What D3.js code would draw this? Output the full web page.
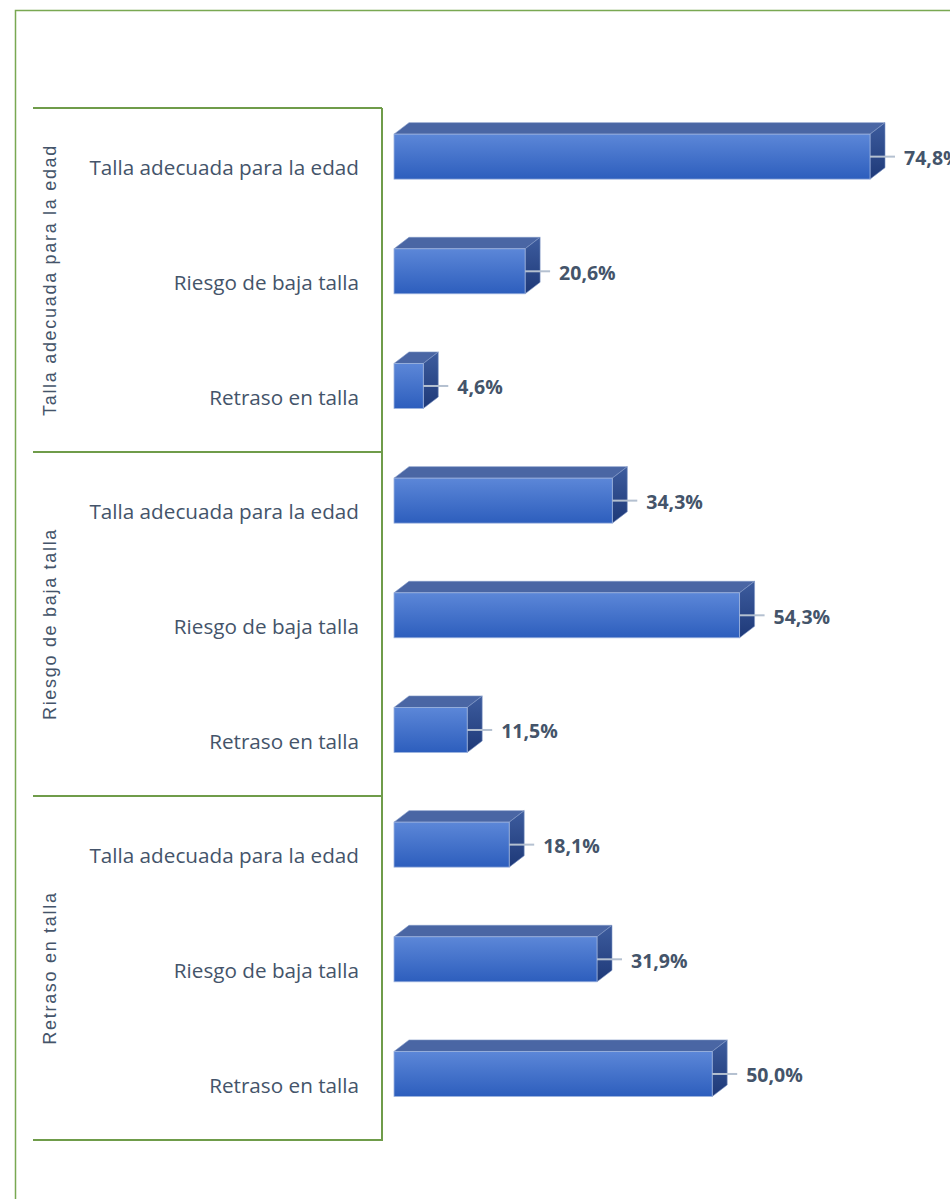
<!DOCTYPE html>
<html><head><meta charset="utf-8">
<script src="https://cdn.jsdelivr.net/npm/d3@7"></script>
<style>html,body{margin:0;padding:0;background:#fff;}svg{display:block;}</style>
</head><body>
<script>
const groups = ["Talla adecuada para la edad", "Riesgo de baja talla", "Retraso en talla"];
const categories = ["Talla adecuada para la edad", "Riesgo de baja talla", "Retraso en talla"];
const valuesTallaAdecuada = [74.8, 20.6, 4.6];
const valuesRiesgo = [34.3, 54.3, 11.5];
const valuesRetraso = [18.1, 31.9, 50.0];
const seriesValues = [valuesTallaAdecuada, valuesRiesgo, valuesRetraso];

const W = 950, H = 1199;
const rows = [];
groups.forEach((g, gi) => categories.forEach((c, ci) => rows.push({g, gi, c, ci, v: seriesValues[gi][ci], key: gi + "|" + ci})));

const svg = d3.select("body").append("svg").attr("width", W).attr("height", H);
const defs = svg.append("defs");
const gf = defs.append("linearGradient").attr("id", "front").attr("x1", 0).attr("y1", 0).attr("x2", 0).attr("y2", 1);
gf.append("stop").attr("offset", "0%").attr("stop-color", "#5c87d8");
gf.append("stop").attr("offset", "100%").attr("stop-color", "#2d5ebd");
const gs = defs.append("linearGradient").attr("id", "side").attr("x1", 0).attr("y1", 0).attr("x2", 0).attr("y2", 1);
gs.append("stop").attr("offset", "0%").attr("stop-color", "#3d5c9e");
gs.append("stop").attr("offset", "100%").attr("stop-color", "#1e3978");

const green = "#6f9c4a";
const textCol = "#44546a";

// outer border (top and left visible)
svg.append("rect").attr("x", 15.5).attr("y", 10.5).attr("width", 1000).attr("height", 1300)
  .attr("fill", "none").attr("stroke", "#79a852").attr("stroke-width", 1.5);

const x = d3.scaleLinear().domain([0, 100]).range([394, 1030.4]);
const y = d3.scaleBand().domain(rows.map(r => r.key)).range([108, 1140]).padding(0);
const yg = d3.scaleBand().domain(groups).range([108, 1140]).padding(0);

const axisX = 382;
// group separators
const sepYs = [108, ...groups.map(g => yg(g) + yg.bandwidth())];
svg.selectAll("line.sep").data(sepYs).enter().append("line")
  .attr("x1", 33).attr("x2", axisX).attr("y1", d => d).attr("y2", d => d)
  .attr("stroke", green).attr("stroke-width", 1.8);
svg.append("line").attr("x1", axisX).attr("x2", axisX).attr("y1", 108).attr("y2", 1141)
  .attr("stroke", green).attr("stroke-width", 2);

// category labels
svg.selectAll("text.cat").data(rows).enter().append("text")
  .attr("x", 359).attr("y", d => y(d.key) + y.bandwidth() / 2 + 2)
  .attr("text-anchor", "end").attr("dominant-baseline", "central")
  .attr("font-family", "'Open Sans', sans-serif").attr("font-size", 20.7)
  .attr("fill", textCol).text(d => d.c);

// group labels rotated
svg.selectAll("text.grp").data(groups).enter().append("text")
  .attr("transform", d => `translate(50,${yg(d) + yg.bandwidth() / 2}) rotate(-90)`)
  .attr("text-anchor", "middle").attr("dominant-baseline", "central")
  .attr("font-family", "'Liberation Sans', Arial, sans-serif").attr("font-size", 18)
  .attr("letter-spacing", 1.7)
  .attr("fill", textCol).text(d => d);

// 3D bars
const dx = 15, dy = 11.5, bh = 45;
const bars = svg.selectAll("g.bar").data(rows).enter().append("g");
bars.each(function(d) {
  const g = d3.select(this);
  const x0 = x(0), x1 = x(d.v);
  const yc = y(d.key) + y.bandwidth() / 2 - 8.7;
  const yt = yc - bh / 2, yb = yc + bh / 2;
  g.append("path").attr("d", `M${x0},${yt} L${x0 + dx},${yt - dy} L${x1 + dx},${yt - dy} L${x1},${yt} Z`)
    .attr("fill", "#4a66a4").attr("stroke", "#7f97c6").attr("stroke-width", 0.6);
  g.append("path").attr("d", `M${x1},${yt} L${x1 + dx},${yt - dy} L${x1 + dx},${yb - dy} L${x1},${yb} Z`)
    .attr("fill", "url(#side)").attr("stroke", "#7f97c6").attr("stroke-width", 0.6);
  g.append("rect").attr("x", x0).attr("y", yt).attr("width", x1 - x0).attr("height", bh)
    .attr("fill", "url(#front)").attr("stroke", "#9db3de").attr("stroke-width", 0.8);
  g.append("line").attr("x1", x1).attr("x2", x1 + 25).attr("y1", yc).attr("y2", yc)
    .attr("stroke", "#b4c0d0").attr("stroke-width", 2);
  g.append("text").attr("x", x1 + 34).attr("y", yc + 1).attr("dominant-baseline", "central")
    .attr("font-family", "'Open Sans', sans-serif").attr("font-weight", "bold").attr("font-size", 19.5)
    .attr("fill", textCol).text(d.v.toFixed(1).replace(".", ",") + "%");
});
</script>
</body></html>
